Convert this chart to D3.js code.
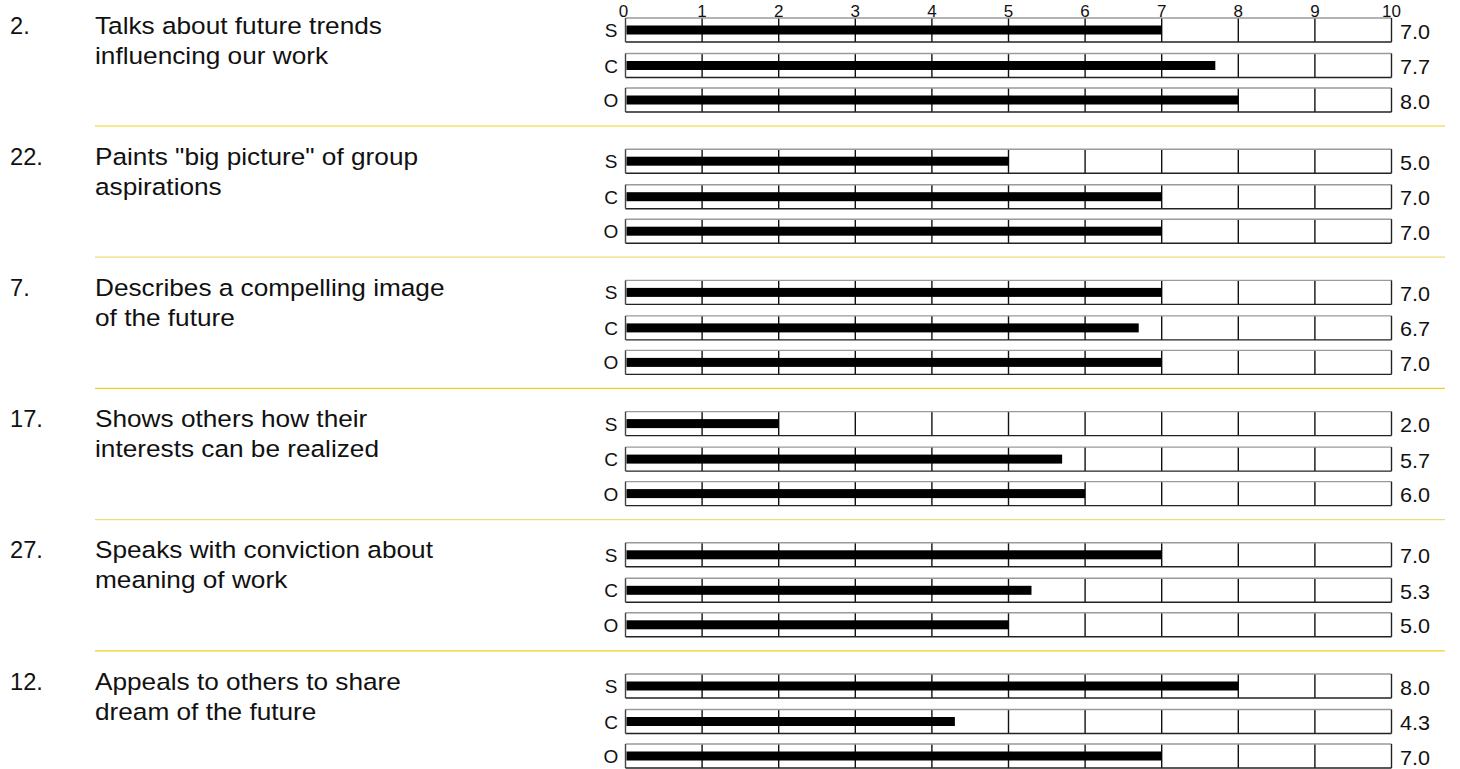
<!DOCTYPE html>
<html>
<head>
<meta charset="utf-8">
<script src="https://cdn.jsdelivr.net/npm/d3@7/dist/d3.min.js"></script>
<style>
  html, body { margin: 0; padding: 0; background: #fff; }
  svg { display: block; font-family: "Liberation Sans", Arial, sans-serif; }
</style>
</head>
<body>
<svg id="chart" width="1460" height="769"></svg>
<script>
// Item numbers and statements (each statement split into its printed lines)
const itemNumbers = ["2.", "22.", "7.", "17.", "27.", "12."];
const statements = [
  ["Talks about future trends", "influencing our work"],
  ["Paints \"big picture\" of group", "aspirations"],
  ["Describes a compelling image", "of the future"],
  ["Shows others how their", "interests can be realized"],
  ["Speaks with conviction about", "meaning of work"],
  ["Appeals to others to share", "dream of the future"]
];

// Rater groups and their scores per item
const raters = ["S", "C", "O"];
const valuesS = [7.0, 5.0, 7.0, 2.0, 7.0, 8.0];
const valuesC = [7.7, 7.0, 6.7, 5.7, 5.3, 4.3];
const valuesO = [8.0, 7.0, 7.0, 6.0, 5.0, 7.0];
const scaleTicks = [0, 1, 2, 3, 4, 5, 6, 7, 8, 9, 10];

const svg = d3.select("#chart");

const x = d3.scaleLinear().domain([0, 10]).range([625.5, 1391.5]);

const groupPitch = 131.2;
const firstRowY = 30;
const rowOffsets = [0, 35.5, 70];
const boxH = 24;
const barH = 9;

const seriesByRater = { S: valuesS, C: valuesC, O: valuesO };

// Text drawn slightly wider than the font's natural proportions
function wideText(sel, px, py, sx) {
  return sel.attr("transform", `translate(${px},${py}) scale(${sx},1)`);
}

// Scale numbers above the first group
svg.append("g")
  .selectAll("text")
  .data(scaleTicks)
  .join("text")
  .attr("x", d => x(d) - (d === 0 ? 2 : 0))
  .attr("y", 17)
  .attr("text-anchor", "middle")
  .attr("font-size", 17)
  .attr("fill", "#111")
  .text(d => d);

itemNumbers.forEach((num, i) => {
  const g = svg.append("g");
  const base = firstRowY + i * groupPitch;

  // Item number and statement
  wideText(g.append("text"), 10, base + 3.5, 1.03)
    .attr("font-size", 23).attr("fill", "#111")
    .text(num);
  statements[i].forEach((line, k) => {
    wideText(g.append("text"), 95, base + 3.5 + k * 30, 1.07)
      .attr("font-size", 24.5).attr("fill", "#111")
      .text(line);
  });

  raters.forEach((r, k) => {
    const cy = base + rowOffsets[k];
    const v = seriesByRater[r][i];
    const top = cy - boxH / 2, bot = cy + boxH / 2;

    // Box background
    g.append("rect")
      .attr("x", x(0)).attr("y", top)
      .attr("width", x(10) - x(0)).attr("height", boxH)
      .attr("fill", "#fff");

    // Gridlines at each whole score
    g.append("g")
      .selectAll("line")
      .data(scaleTicks.slice(1, -1))
      .join("line")
      .attr("x1", d => x(d)).attr("x2", d => x(d))
      .attr("y1", top).attr("y2", bot)
      .attr("stroke", "#111").attr("stroke-width", 1.4);

    // Box frame: grey top, dark sides and bottom
    g.append("line")
      .attr("x1", x(0)).attr("x2", x(10))
      .attr("y1", top).attr("y2", top)
      .attr("stroke", "#9a9a9a").attr("stroke-width", 1.4);
    g.append("line")
      .attr("x1", x(0)).attr("x2", x(10))
      .attr("y1", bot).attr("y2", bot)
      .attr("stroke", "#222").attr("stroke-width", 1.4);
    g.append("line")
      .attr("x1", x(0)).attr("x2", x(0))
      .attr("y1", top).attr("y2", bot)
      .attr("stroke", "#444").attr("stroke-width", 1.4);
    g.append("line")
      .attr("x1", x(10)).attr("x2", x(10))
      .attr("y1", top).attr("y2", bot)
      .attr("stroke", "#222").attr("stroke-width", 1.4);

    // Score bar
    g.append("rect")
      .attr("x", x(0) + 1).attr("y", cy - barH / 2)
      .attr("width", x(v) - x(0) - 1).attr("height", barH)
      .attr("fill", "#000");

    // Rater label
    g.append("text")
      .attr("x", 611).attr("y", cy + 7)
      .attr("text-anchor", "middle")
      .attr("font-size", 19).attr("fill", "#111")
      .text(r);

    // Score value
    wideText(g.append("text"), 1400, cy + 8.5, 1.08)
      .attr("font-size", 20).attr("fill", "#111")
      .text(v.toFixed(1));
  });

  // Separator under each group
  if (i < itemNumbers.length - 1) {
    const sy = base + 96;
    g.append("line")
      .attr("x1", 95).attr("x2", 1445)
      .attr("y1", sy).attr("y2", sy)
      .attr("stroke", i % 2 === 0 ? "#f0d21e" : "#ecdc80")
      .attr("stroke-width", 1.2);
  }
});
</script>
</body>
</html>
